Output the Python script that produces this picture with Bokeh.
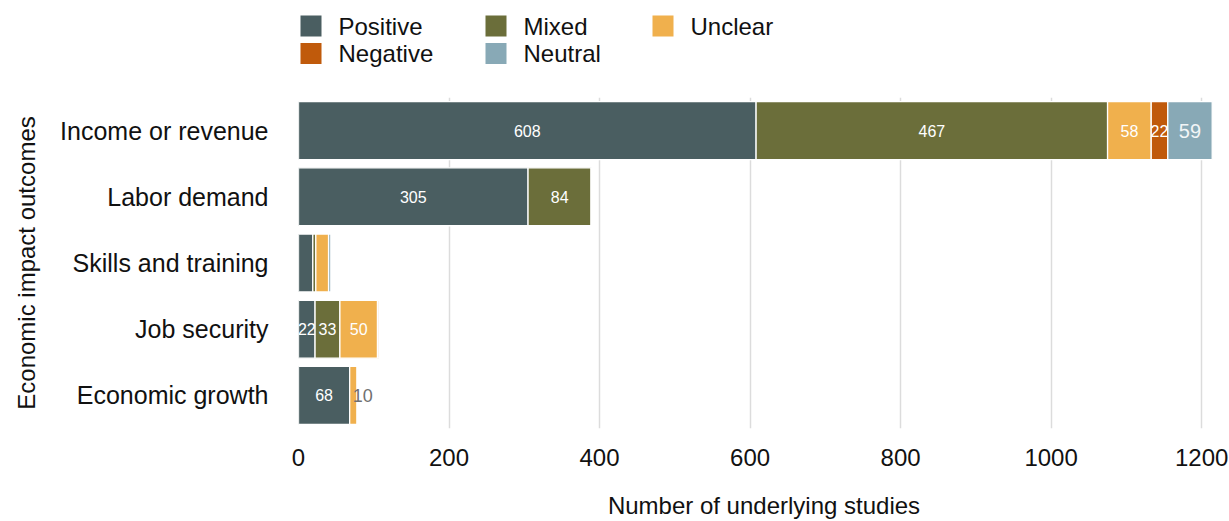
from bokeh.plotting import figure
from bokeh.layouts import column
from bokeh.models import Range1d, FactorRange, ColumnDataSource, FixedTicker
from bokeh.core.properties import value
from bokeh.embed import file_html
from bokeh.resources import INLINE

# Study counts per economic outcome, split by direction of the reported impact
outcomes = ["Income or revenue", "Labor demand", "Skills and training", "Job security", "Economic growth"]
statuses = ["Positive", "Mixed", "Unclear", "Negative", "Neutral"]
positive = [608, 305, 19, 22, 68]
mixed = [467, 84, 4, 33, 0]
unclear = [58, 0, 17, 50, 10]
negative = [22, 0, 0, 2, 0]
neutral = [59, 0, 3, 0, 0]
colors = ["#4a5e61", "#6b6e3a", "#f0b04d", "#c05a0b", "#88a9b6"]
x_ticks = [0, 200, 400, 600, 800, 1000, 1200]

# which segments carry a value label (1 = labelled)
labelled = {
    "Positive": [1, 1, 0, 1, 1],
    "Mixed": [1, 1, 0, 1, 0],
    "Unclear": [1, 0, 0, 1, 1],
    "Negative": [1, 0, 0, 0, 0],
    "Neutral": [1, 0, 0, 0, 0],
}

FONT = "Liberation Sans"
INK = "#111111"
W = 1229
LEFT = 298          # width reserved for the category axis
LEGEND_H = 97
MAIN_H = 424

series = dict(zip(statuses, [positive, mixed, unclear, negative, neutral]))
data = {"outcome": outcomes}
data.update(series)
source = ColumnDataSource(data)

# ---- legend strip (frame shares the chart's left edge; x in page pixels) ----
leg = figure(width=W, height=LEGEND_H, x_range=Range1d(LEFT, W), y_range=Range1d(LEGEND_H, 0),
             x_axis_location=None, y_axis_location=None,
             output_backend="svg", toolbar_location=None,
             min_border_left=LEFT, min_border_right=0, min_border_top=0, min_border_bottom=0)
leg.outline_line_color = None
leg.xgrid.grid_line_color = None
leg.ygrid.grid_line_color = None

col_left = [300, 485, 652]
row_mid = [25.5, 53]
box = 21
sq_x, sq_y, tx_x, tx_y = [], [], [], []
for k, s in enumerate(statuses):
    r, c = divmod(k, 3)
    sq_x.append(col_left[c] + box / 2)
    sq_y.append(row_mid[r])
    tx_x.append(col_left[c] + box + 17)
    tx_y.append(row_mid[r])
leg.rect(x=sq_x, y=sq_y, width=box, height=box, fill_color=colors, line_color=None)
leg.text(x=tx_x, y=tx_y, text=statuses, text_font=value(FONT), text_font_size="24px",
         text_color=INK, text_baseline="middle", text_align="left")

# ---- main chart ----
p = figure(
    width=W, height=MAIN_H,
    y_range=FactorRange(*reversed(outcomes), range_padding=0),
    x_range=Range1d(0, 1237),
    output_backend="svg", toolbar_location=None,
    min_border_left=LEFT, min_border_right=0,
    min_border_top=0, min_border_bottom=93,
)
p.outline_line_color = None

p.hbar_stack(statuses, y="outcome", height=0.875, color=colors, source=source,
             line_color="white", line_width=1.3)

# value labels centred in each labelled segment
lab_x, lab_y, lab_t, lab_c, lab_s, lab_align, lab_dx = [], [], [], [], [], [], []
for i, cat in enumerate(outcomes):
    left = 0
    for s in statuses:
        v = series[s][i]
        if labelled[s][i]:
            if s == "Unclear" and cat == "Economic growth":
                lab_x.append(left)
                lab_c.append("#707070")
                lab_s.append("18px")
                lab_align.append("left")
                lab_dx.append(3)
            elif s == "Neutral":
                lab_x.append(left + v / 2)
                lab_c.append("#f2f5f6")
                lab_s.append("20px")
                lab_align.append("center")
                lab_dx.append(0)
            else:
                lab_x.append(left + v / 2)
                lab_c.append("white")
                lab_s.append("16px")
                lab_align.append("center")
                lab_dx.append(0)
            lab_y.append(cat)
            lab_t.append(str(v))
        left += v

lsrc = ColumnDataSource(dict(x=lab_x, y=lab_y, t=lab_t, c=lab_c, s=lab_s, a=lab_align, dx=lab_dx))
p.text(x="x", y="y", text="t", source=lsrc, text_color="c", text_font_size="s",
       text_align="a", x_offset="dx", text_baseline="middle", text_font=value(FONT))

# axes
p.xaxis.ticker = FixedTicker(ticks=x_ticks)
p.xaxis.axis_label = "Number of underlying studies"
p.yaxis.axis_label = "Economic impact outcomes"
for ax in (p.xaxis[0], p.yaxis[0]):
    ax.axis_line_color = None
    ax.major_tick_line_color = None
    ax.minor_tick_line_color = None
    ax.major_tick_out = 0
    ax.major_tick_in = 0
    ax.major_label_text_font = FONT
    ax.major_label_text_color = INK
    ax.axis_label_text_font = FONT
    ax.axis_label_text_font_size = "24px"
    ax.axis_label_text_font_style = "normal"
    ax.axis_label_text_color = INK
p.xaxis.major_label_text_font_size = "24px"
p.yaxis.major_label_text_font_size = "25px"
p.xaxis.major_label_standoff = 20
p.xaxis.axis_label_standoff = 23
p.yaxis.major_label_standoff = 30
p.yaxis.axis_label_standoff = 17

p.xgrid.grid_line_color = "#dcdcdc"
p.xgrid.grid_line_width = 1.5
p.ygrid.grid_line_color = None

layout = column(leg, p, spacing=0)
open("out.html", "w").write(file_html(layout, INLINE))
